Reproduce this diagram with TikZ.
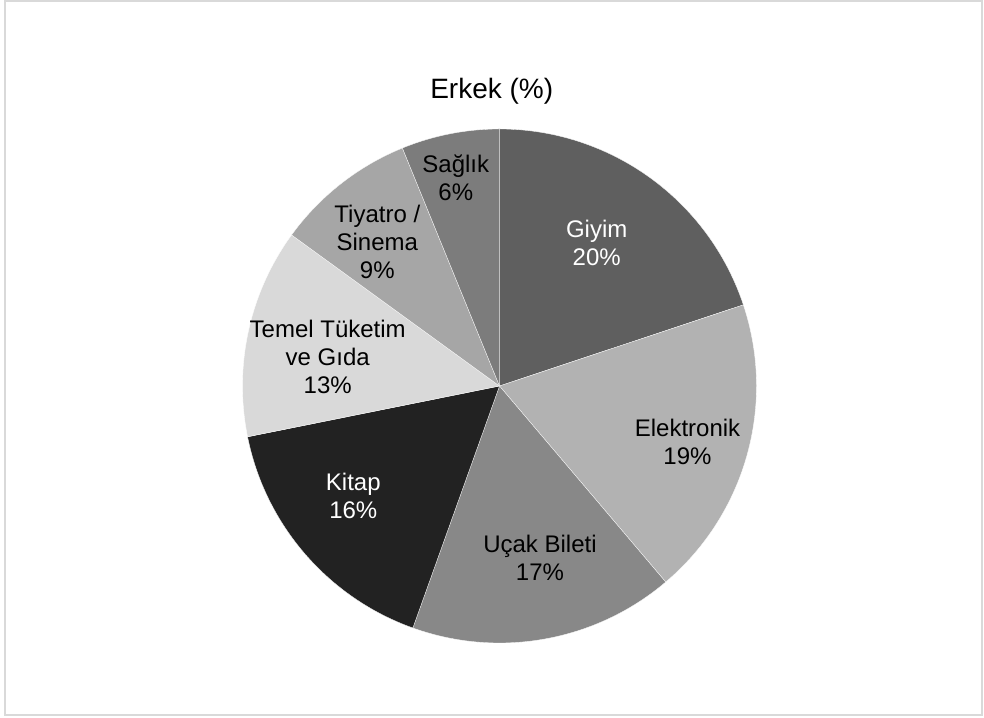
\documentclass[tikz,border=0pt]{standalone}
\usepackage{fontspec}
\setmainfont{Liberation Sans}
\definecolor{cGiyim}{HTML}{5F5F5F}
\definecolor{cElek}{HTML}{B2B2B2}
\definecolor{cUcak}{HTML}{888888}
\definecolor{cKitap}{HTML}{222222}
\definecolor{cTemel}{HTML}{D9D9D9}
\definecolor{cTiyatro}{HTML}{A6A6A6}
\definecolor{cSaglik}{HTML}{7C7C7C}
\definecolor{frameGray}{HTML}{D9D9D9}
\tikzset{
  lbl/.style={anchor=base, inner sep=0pt, font=\fontsize{24}{28}\selectfont},
  lblw/.style={lbl, text=white},
  ttl/.style={anchor=base, inner sep=0pt, font=\fontsize{28}{33}\selectfont},
  slice/.style={draw=white, line width=0.3pt, line join=round},
}
\begin{document}
\begin{tikzpicture}[x=1pt,y=1pt]
\useasboundingbox (0,0) rectangle (984,717);
\draw[frameGray, line width=1.5pt] (5,2) rectangle (982,716);
\coordinate (C) at (499.5,331);
\def\R{257}
\foreach \a/\b/\c in {90/18.4/cGiyim, 18.4/-49.7/cElek, -49.7/-109.7/cUcak, -109.7/-168.6/cKitap, -168.6/-216/cTemel, -216/-247.8/cTiyatro, -247.8/-270/cSaglik}{
  \filldraw[slice, fill=\c] (C) -- ++(\a:\R) arc[start angle=\a, end angle=\b, radius=\R] -- cycle;
}
\node[ttl] (title) at (491.7,618.7) {Erkek (\%)};
\node[lbl] (saglik1) at (455.8,544.3) {Sağlık};
\node[lbl] (saglik2) at (455.8,516.3) {6\%};
\node[lblw] (giyim1) at (596.7,479.3) {Giyim};
\node[lblw] (giyim2) at (596.7,451) {20\%};
\node[lbl] (elek1) at (687.5,280.3) {Elektronik};
\node[lbl] (elek2) at (687.5,252) {19\%};
\node[lbl] (ucak1) at (540,164.3) {Uçak Bileti};
\node[lbl] (ucak2) at (540,136.3) {17\%};
\node[lblw] (kitap1) at (353.3,226) {Kitap};
\node[lblw] (kitap2) at (353.3,198) {16\%};
\node[lbl] (temel1) at (327.7,379.7) {Temel Tüketim};
\node[lbl] (temel2) at (327.7,351.3) {ve Gıda};
\node[lbl] (temel3) at (327.7,323.7) {13\%};
\node[lbl] (tiy1) at (377.3,494.3) {Tiyatro /};
\node[lbl] (tiy2) at (377.3,466.3) {Sinema};
\node[lbl] (tiy3) at (377.3,438.7) {9\%};
\end{tikzpicture}
\end{document}
